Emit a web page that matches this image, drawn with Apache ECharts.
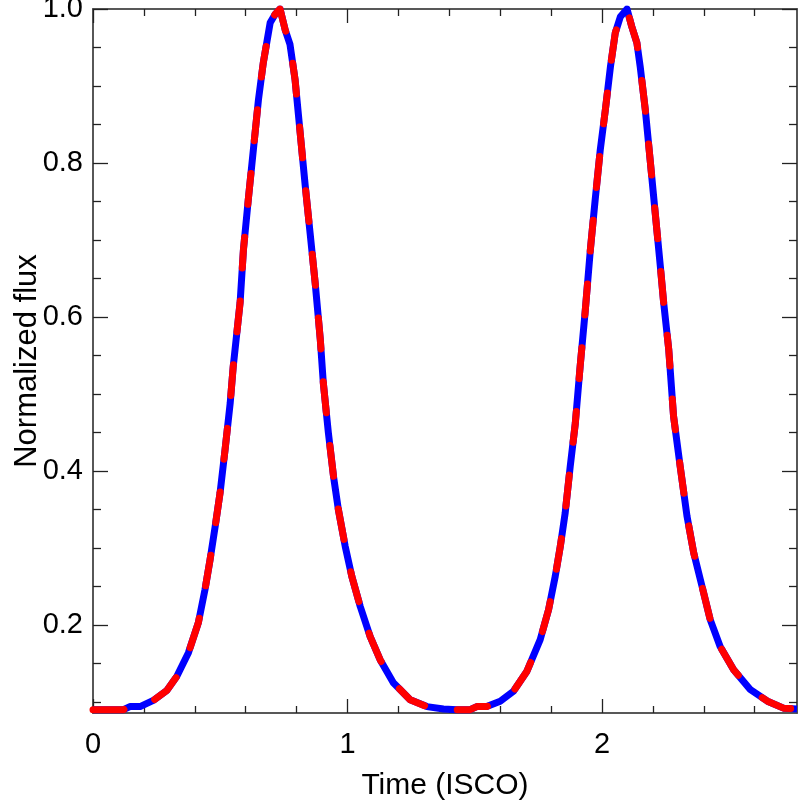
<!DOCTYPE html>
<html>
<head>
<meta charset="utf-8">
<title>Normalized flux</title>
<script src="https://cdn.jsdelivr.net/npm/echarts@6/dist/echarts.min.js"></script>
<style>
  html, body { margin: 0; padding: 0; background: #fff; }
  #chart { width: 799px; height: 803px; }
</style>
</head>
<body>
<div id="chart"></div>
<script>
// light curve
const timeIsco = [
  0.00, 0.12, 0.145, 0.185, 0.237, 0.290, 0.329, 0.375, 0.414, 0.440,
  0.460, 0.480, 0.499, 0.519, 0.539, 0.551, 0.565, 0.578, 0.591, 0.610,
  0.630, 0.650, 0.669, 0.696, 0.715, 0.735, 0.755, 0.774, 0.794, 0.814,
  0.834, 0.853, 0.873, 0.893, 0.905, 0.925, 0.945, 0.964, 0.991, 1.017,
  1.050, 1.089, 1.128, 1.180, 1.246, 1.312, 1.377, 1.430, 1.482, 1.508,
  1.547, 1.600, 1.652, 1.705, 1.757, 1.790, 1.816, 1.836, 1.855, 1.875,
  1.895, 1.914, 1.934, 1.954, 1.973, 1.993, 2.013, 2.033, 2.052, 2.072,
  2.098, 2.117, 2.137, 2.150, 2.170, 2.189, 2.209, 2.229, 2.242, 2.262,
  2.281, 2.307, 2.334, 2.360, 2.393, 2.425, 2.464, 2.517, 2.583, 2.650,
  2.713, 2.766
];
const flux = [
  0.090, 0.090, 0.094, 0.094, 0.102, 0.115, 0.133, 0.164, 0.203, 0.246,
  0.285, 0.328, 0.371, 0.428, 0.488, 0.536, 0.579, 0.619, 0.687, 0.752,
  0.817, 0.882, 0.930, 0.982, 0.993, 1.000, 0.973, 0.954, 0.908, 0.839,
  0.770, 0.709, 0.644, 0.571, 0.514, 0.449, 0.393, 0.350, 0.302, 0.263,
  0.224, 0.185, 0.155, 0.125, 0.103, 0.094, 0.091, 0.090, 0.090, 0.094,
  0.094, 0.101, 0.114, 0.140, 0.181, 0.220, 0.263, 0.302, 0.345, 0.406,
  0.462, 0.536, 0.608, 0.687, 0.752, 0.817, 0.869, 0.925, 0.969, 0.990,
  1.000, 0.977, 0.956, 0.925, 0.869, 0.804, 0.735, 0.666, 0.619, 0.558,
  0.471, 0.406, 0.341, 0.294, 0.250, 0.207, 0.172, 0.142, 0.116, 0.101,
  0.092, 0.091
];

const xMin = 0, xMax = 2.766;
const yMin = 0.0857, yMax = 1.0;
const xMajorTicks = [0, 1, 2];
const xMinorTicks = [0.2, 0.4, 0.6, 0.8, 1.2, 1.4, 1.6, 1.8, 2.2, 2.4, 2.6];
const yMajorTicks = [0.2, 0.4, 0.6, 0.8, 1.0];
const yMinorTicks = [0.1, 0.15, 0.25, 0.3, 0.35, 0.45, 0.5, 0.55, 0.65, 0.7, 0.75, 0.85, 0.9, 0.95];

const points = timeIsco.map((t, i) => [t, flux[i]]);

const FONT = 'Liberation Sans, Arial, Helvetica, sans-serif';
const AXIS_COLOR = '#4d4d4d';

// one axis = one side + one tick set (major ticks long, minor short)
function makeAxis(position, lo, hi, ticks, tickLen, withLabels, extra) {
  return Object.assign({
    type: 'value',
    position: position,
    min: lo,
    max: hi,
    offset: 0,
    axisLine: { show: true, onZero: false, lineStyle: { color: AXIS_COLOR, width: 1.5 } },
    axisTick: {
      show: true,
      inside: true,
      length: tickLen,
      customValues: ticks,
      lineStyle: { color: '#222', width: 1.3 }
    },
    axisLabel: {
      show: withLabels,
      customValues: withLabels ? ticks : [],
      color: '#000',
      fontFamily: FONT,
      fontSize: 29
    },
    splitLine: { show: false },
    minorTick: { show: false }
  }, extra || {});
}

const xAxes = [
  makeAxis('bottom', xMin, xMax, xMajorTicks, 14, true, {
    name: 'Time (ISCO)',
    nameLocation: 'middle',
    nameGap: 58,
    nameMoveOverlap: false,
    nameTextStyle: { color: '#000', fontFamily: FONT, fontSize: 30 }
  }),
  makeAxis('bottom', xMin, xMax, xMinorTicks, 7, false),
  makeAxis('top', xMin, xMax, xMajorTicks, 14, false),
  makeAxis('top', xMin, xMax, xMinorTicks, 7, false)
];
xAxes[0].axisLabel.margin = 17;
xAxes[0].axisLabel.formatter = v => String(Math.round(v));

const yAxes = [
  makeAxis('left', yMin, yMax, yMajorTicks, 15, true, {
    name: 'Normalized flux',
    nameLocation: 'middle',
    nameGap: 50,
    nameMoveOverlap: false,
    nameTextStyle: { color: '#000', fontFamily: FONT, fontSize: 31 }
  }),
  makeAxis('left', yMin, yMax, yMinorTicks, 8, false),
  makeAxis('right', yMin, yMax, yMajorTicks, 15, false),
  makeAxis('right', yMin, yMax, yMinorTicks, 8, false)
];
yAxes[0].axisLabel.margin = 10;
yAxes[0].axisLabel.formatter = v => v.toFixed(1);

const chart = echarts.init(document.getElementById('chart'));
chart.setOption({
  animation: false,
  backgroundColor: '#fff',
  grid: { left: 93, right: 2, top: 9, bottom: 90, outerBoundsMode: 'none', containLabel: false },
  xAxis: xAxes,
  yAxis: yAxes,
  series: [
    {
      name: 'blue',
      type: 'line',
      data: points,
      xAxisIndex: 0,
      yAxisIndex: 0,
      showSymbol: false,
      lineStyle: { color: '#0000ff', width: 7, join: 'round' }
    },
    {
      name: 'red',
      type: 'line',
      data: points,
      xAxisIndex: 0,
      yAxisIndex: 0,
      showSymbol: false,
      lineStyle: { color: '#ff0000', width: 7, type: [31, 33], cap: 'round', join: 'round' }
    }
  ]
});
</script>
</body>
</html>
